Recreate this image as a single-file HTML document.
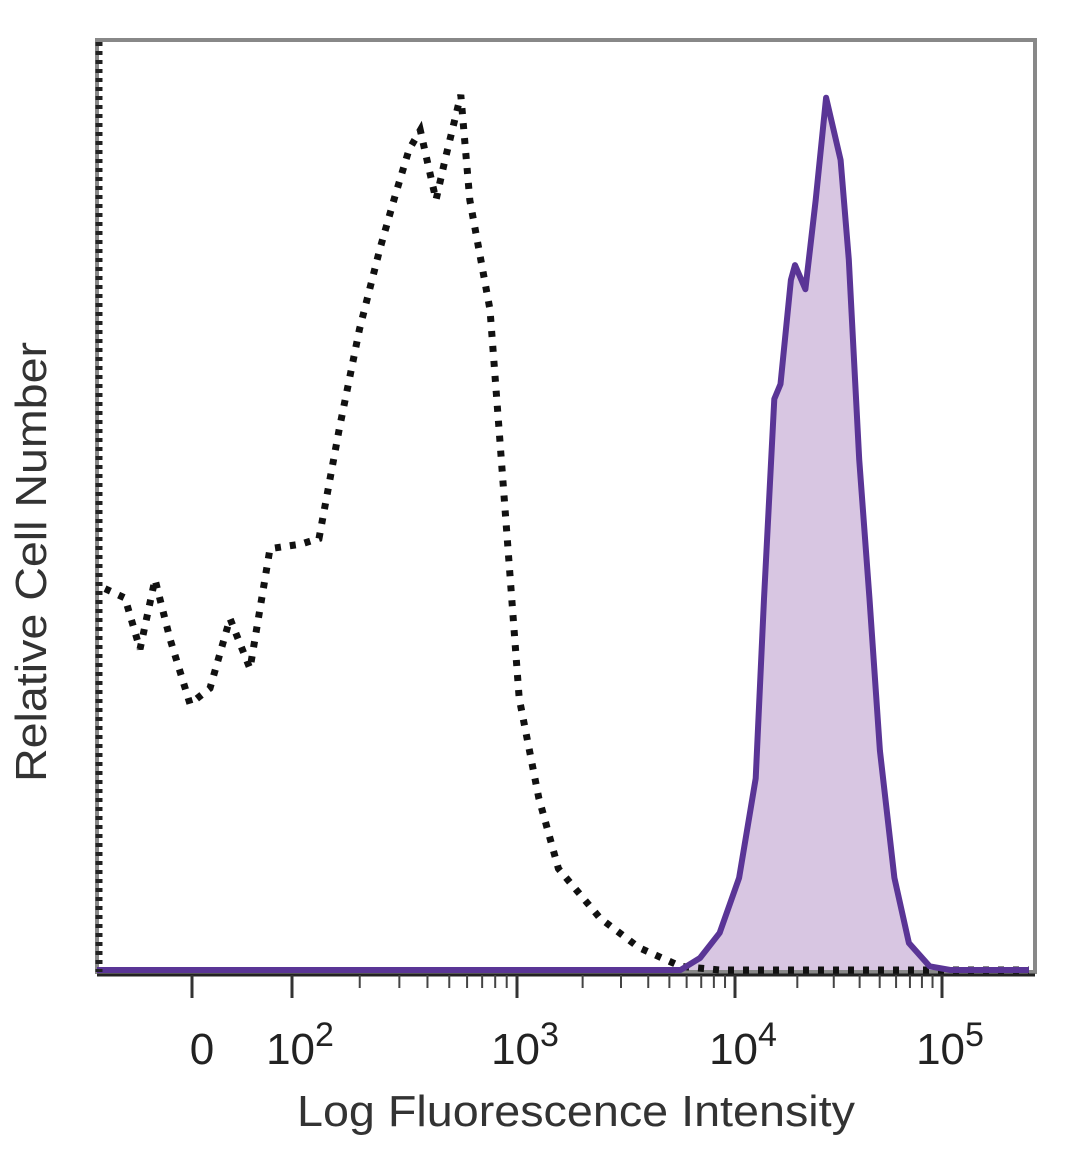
<!DOCTYPE html>
<html><head><meta charset="utf-8"><style>
body{margin:0;background:#fff;}
svg{display:block;font-family:"Liberation Sans",sans-serif;}
</style></head><body>
<svg id="chart" width="1080" height="1169" viewBox="0 0 1080 1169">
<rect x="97" y="40" width="938" height="932" fill="none" stroke="#888" stroke-width="4"/>
<g id="marks"></g>
<g id="axes"></g>
<text x="46" y="562" font-size="44" fill="#333" text-anchor="middle" textLength="440" lengthAdjust="spacingAndGlyphs" transform="rotate(-90 46 562)">Relative Cell Number</text>
<text x="576" y="1126" font-size="44" fill="#333" text-anchor="middle" textLength="558" lengthAdjust="spacingAndGlyphs">Log Fluorescence Intensity</text>
</svg>
<script>
// x in scale units: 0 -> "0", 1 -> 10^2, 2 -> 10^3, 3 -> 10^4, 4 -> 10^5
const controlX = [-0.87,-0.67,-0.52,-0.37,-0.22,-0.02,0.18,0.38,0.58,0.78,1.04,1.12,1.21,1.30,1.39,1.46,1.52,1.57,1.64,1.68,1.75,1.79,1.88,1.92,1.97,2.01,2.10,2.19,2.38,2.56,2.75,2.93,4.42];
const controlY = [41,40,34.5,42,35.6,28.6,30.3,37.8,32.4,45.3,45.8,46.4,58.2,68.9,77.5,83.4,88.2,90.3,82.8,87.1,94.1,82.8,71,58.2,42,29.2,18.5,10.9,5.6,2.4,0.4,0,0];
const stainX = [-0.95,2.75,2.84,2.93,3.02,3.10,3.14,3.19,3.22,3.27,3.29,3.34,3.39,3.44,3.51,3.55,3.60,3.65,3.70,3.77,3.84,3.94,4.04,4.42];
const stainY = [0,0,1.3,4.0,9.9,20.6,39.9,61.4,63,74.2,75.8,73.2,82.8,93.8,87.1,76.4,54.9,39.9,23.6,9.9,2.9,0.4,0,0];
const tickUnits = [0,1,2,3,4];
const tickBase = ["0","10","10","10","10"];
const tickExp = ["","2","3","4","5"];

const tickPx = [192,292,517,735,942];
function xs(u){
  if(u<=1) return tickPx[0]+u*(tickPx[1]-tickPx[0]);
  const i=Math.min(Math.floor(u),3);
  return tickPx[i]+(u-i)*(tickPx[i+1]-tickPx[i]);
}
function ys(v){return 970-v/100*930;}
const NS="http://www.w3.org/2000/svg";
const marks=document.getElementById('marks'), axes=document.getElementById('axes');
function pts(X,Y){return X.map((x,i)=>xs(x).toFixed(1)+','+ys(Y[i]).toFixed(1)).join(' ');}

const fill=document.createElementNS(NS,'polygon');
fill.setAttribute('points',pts(stainX,stainY));
fill.setAttribute('fill','#d8c6e2');


marks.appendChild(fill);

const ctl=document.createElementNS(NS,'polyline');
ctl.setAttribute('points',pts(controlX,controlY));
ctl.setAttribute('fill','none');ctl.setAttribute('stroke','#111');
ctl.setAttribute('stroke-width','7');ctl.setAttribute('stroke-dasharray','6 9');


marks.appendChild(ctl);

const st=document.createElementNS(NS,'polyline');
st.setAttribute('points',pts(stainX,stainY));
st.setAttribute('fill','none');st.setAttribute('stroke','#5a3596');
st.setAttribute('stroke-width','6');st.setAttribute('stroke-linejoin','round');


marks.appendChild(st);

// left dotted axis
const la=document.createElementNS(NS,'line');
la.setAttribute('x1',99);la.setAttribute('x2',99);la.setAttribute('y1',42);la.setAttribute('y2',972);
la.setAttribute('stroke','#222');la.setAttribute('stroke-width','7');la.setAttribute('stroke-dasharray','4 5');


axes.appendChild(la);
const ba=document.createElementNS(NS,'line');
ba.setAttribute('x1',97);ba.setAttribute('x2',1035);ba.setAttribute('y1',975);ba.setAttribute('y2',975);
ba.setAttribute('stroke','#222');ba.setAttribute('stroke-width','3');


axes.appendChild(ba);

tickUnits.forEach((u,i)=>{
  const x=xs(u);
  const t=document.createElementNS(NS,'line');
  t.setAttribute('x1',x);t.setAttribute('x2',x);t.setAttribute('y1',975);t.setAttribute('y2',998);
  t.setAttribute('stroke','#333');t.setAttribute('stroke-width','3');
  
  
  axes.appendChild(t);
  const tx=document.createElementNS(NS,'text');
  tx.setAttribute('y',1064);tx.setAttribute('font-size','44');tx.setAttribute('fill','#222');
  tx.setAttribute('text-anchor','middle');tx.setAttribute('x',x+(tickExp[i]?8:10));
  tx.textContent=tickBase[i];
  if(tickExp[i]){const s=document.createElementNS(NS,'tspan');s.setAttribute('dy','-18');s.setAttribute('font-size','34');s.textContent=tickExp[i];tx.appendChild(s);}
  
  
  axes.appendChild(tx);
});
// minor ticks
for(let d=1;d<4;d++){for(let m=2;m<10;m++){
  const x=xs(d+Math.log10(m));
  const t=document.createElementNS(NS,'line');
  t.setAttribute('x1',x);t.setAttribute('x2',x);t.setAttribute('y1',975);t.setAttribute('y2',988);
  t.setAttribute('stroke','#444');t.setAttribute('stroke-width','2');
  
  
  axes.appendChild(t);
}}
</script>
</body></html>
